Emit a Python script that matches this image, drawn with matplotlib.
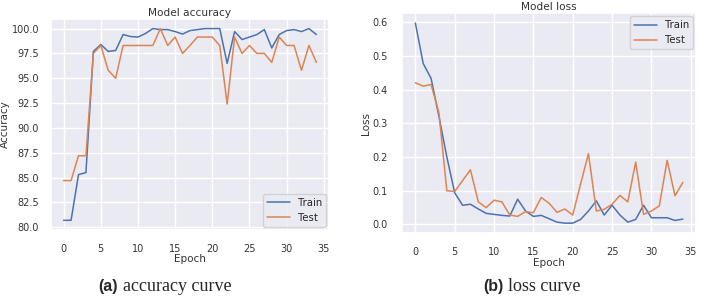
import matplotlib
matplotlib.use("Agg")
import matplotlib.pyplot as plt
import seaborn as sns

sns.set_theme(style="darkgrid")
plt.rcParams['font.family'] = ['DejaVu Sans']

epochs = list(range(35))
acc_train = [80.7, 80.7, 85.3, 85.5, 97.7, 98.4, 97.7, 97.8, 99.4, 99.2,
             99.15, 99.5, 100.0, 99.9, 99.9, 99.7, 99.45, 99.8, 99.9, 100.0,
             100.0, 100.0, 96.5, 99.7, 98.9, 99.15, 99.4, 99.9, 98.05, 99.4,
             99.8, 99.9, 99.7, 100.0, 99.4]
acc_test = [84.7, 84.7, 87.2, 87.2, 97.5, 98.3, 95.8, 95.0, 98.3, 98.3,
            98.3, 98.3, 98.3, 100.0, 98.3, 99.15, 97.5, 98.3, 99.15, 99.15,
            99.15, 98.3, 92.4, 99.15, 97.5, 98.3, 97.5, 97.5, 96.6, 99.15,
            98.3, 98.3, 95.8, 98.3, 96.6]
loss_train = [0.597, 0.477, 0.433, 0.32, 0.20, 0.094, 0.057, 0.06, 0.046, 0.033,
              0.03, 0.027, 0.025, 0.075, 0.04, 0.024, 0.027, 0.017, 0.007, 0.004,
              0.004, 0.015, 0.04, 0.07, 0.028, 0.057, 0.028, 0.007, 0.015, 0.057,
              0.02, 0.02, 0.02, 0.012, 0.016]
loss_test = [0.42, 0.41, 0.415, 0.33, 0.10, 0.098, 0.13, 0.162, 0.067, 0.05,
             0.072, 0.067, 0.028, 0.024, 0.038, 0.035, 0.08, 0.063, 0.036, 0.046,
             0.028, 0.12, 0.21, 0.04, 0.045, 0.06, 0.086, 0.067, 0.185, 0.03,
             0.04, 0.055, 0.19, 0.085, 0.125]
legend_labels = ["Train", "Test"]
xticks = [0, 5, 10, 15, 20, 25, 30, 35]

fig = plt.figure(figsize=(7.04, 2.97), dpi=100)
ax1 = fig.add_axes([51 / 704, 0.226, 278 / 704, 0.710])
ax2 = fig.add_axes([0.571, 0.215, 0.418, 0.741])

fs = 7.0
for ax, tr, te, title, ylab, loc in [
        (ax1, acc_train, acc_test, "Model accuracy", "Accuracy", "lower right"),
        (ax2, loss_train, loss_test, "Model loss", "Loss", "upper right")]:
    ax.plot(epochs, tr, color="#4c72b0", lw=1.1, label=legend_labels[0])
    ax.plot(epochs, te, color="#dd8452", lw=1.1, label=legend_labels[1])
    ax.set_title(title, fontsize=7.6, pad=2.5, color="#333333")
    ax.set_xlabel("Epoch", fontsize=7.5, labelpad=0.5, color="#333333")
    ax.set_ylabel(ylab, fontsize=7.5, labelpad=1, color="#333333")
    ax.set_xticks(xticks)
    ax.tick_params(labelsize=fs, pad=4, colors="#333333")
    leg = ax.legend(loc=loc, fontsize=7.3, handlelength=2.2,
                    borderaxespad=0.3)

ax1.set_yticks([80.0, 82.5, 85.0, 87.5, 90.0, 92.5, 95.0, 97.5, 100.0])
ax1.set_yticklabels(["80.0", "82.5", "85.0", "87.5", "90.0", "92.5", "95.0", "97.5", "100.0"])
ax1.tick_params(axis="y", pad=2.5)
ax2.set_yticks([0.0, 0.1, 0.2, 0.3, 0.4, 0.5, 0.6])
ax2.set_yticklabels(["0.0", "0.1", "0.2", "0.3", "0.4", "0.5", "0.6"])

for x0, x1, y, tag, rest in [(118 / 704, 123 / 704, 0.02, "(a)", "accuracy curve"),
                             (503 / 704, 508 / 704, 0.02, "(b)", "loss curve")]:
    fig.text(x0, y, tag, fontsize=11.5, fontweight="bold",
             family="Liberation Sans", ha="right", va="baseline")
    fig.text(x1, y, rest, fontsize=13, family="Liberation Serif",
             ha="left", va="baseline")

fig.savefig("out.png", dpi=100)
